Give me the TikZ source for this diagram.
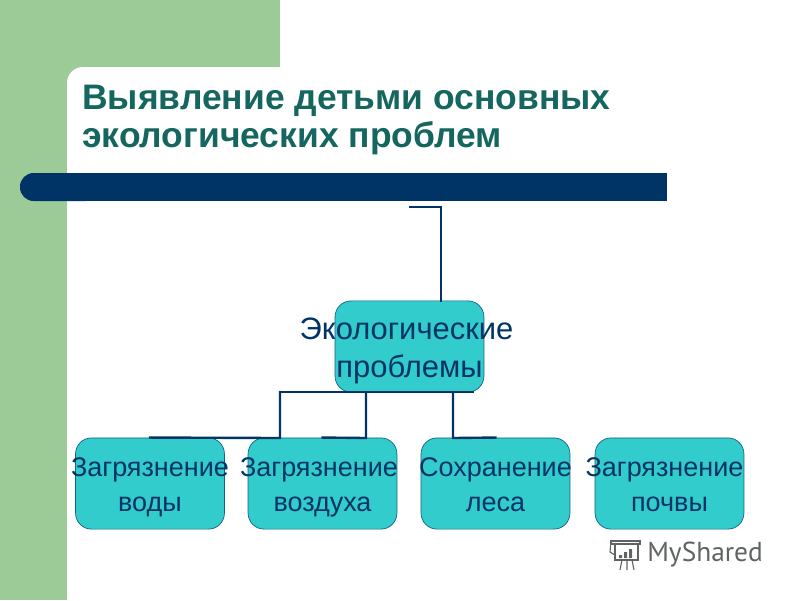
\documentclass[tikz,border=0pt]{standalone}
\usepackage{fontspec}
\setmainfont{Liberation Sans}
\newfontfamily\wmfont{PT Sans}
\usetikzlibrary{positioning}
\definecolor{sidegreen}{HTML}{9DCB98}
\definecolor{barblue}{HTML}{003366}
\definecolor{boxteal}{HTML}{33CCCC}
\definecolor{titleteal}{HTML}{14665F}
\definecolor{wmgray}{HTML}{5F6462}
\tikzset{
	probbox/.style={draw=barblue!70!boxteal, fill=boxteal, rounded corners=0.4cm, minimum width=3.72cm,
		minimum height=2.28cm, inner xsep=-1cm, inner ysep=0pt, align=center, text=barblue, line width=0.5pt},
	rootbox/.style={probbox, font=\fontsize{22}{27}\selectfont, text height=1.85cm, text depth=0.3cm},
	leafbox/.style={probbox, font=\fontsize{19.2}{24.7}\selectfont, text height=1.675cm, text depth=0.3cm},
	link/.style={draw=barblue, line width=1.7pt, line cap=rect},
	headtext/.style={text=titleteal, font=\fontsize{25.2}{27.2}\selectfont\bfseries, align=left, inner sep=0pt, anchor=north west},
	wmline/.style={draw=wmgray, line width=0.8pt}
}
\begin{document}
\begin{tikzpicture}[x=0.025cm, y=-0.025cm]
	\useasboundingbox (0, 0) rectangle (800, 600);
	% backdrop
	\fill[sidegreen] (0, 0) rectangle (67, 600);
	\fill[sidegreen] (67, 0) rectangle (280, 67);
	\fill[sidegreen] (67, 67) rectangle (90, 90);
	\fill[white] (67, 100) [rounded corners=0.4cm] -- (67, 67) -- (120, 67) [sharp corners] -- (120, 100) -- cycle;
	\fill[barblue, rounded corners=0.34cm] (20, 173) rectangle (100, 201);
	\fill[barblue] (50, 173) rectangle (667, 201);
	\node[headtext] (head) at (82, 85) {Выявление детьми основных\\экологических проблем};

	\node[rootbox] (root) at (409.5, 346.5) {Экологические\hspace*{0.15cm}\\проблемы};
	\node[leafbox] (water) at (150, 483.5) {Загрязнение\\воды};
	\node[leafbox] (air) at (322.5, 483.5) {Загрязнение\hspace*{0.175cm}\\воздуха};
	\node[leafbox] (forest) at (495.5, 483.5) {Сохранение\\леса};
	\node[leafbox] (soil) at (669.5, 483.5) {Загрязнение\hspace*{0.25cm}\\почвы};

	\coordinate (topend) at (410, 207);
	\coordinate (topbend) at (441, 207);
	\coordinate (rootleft) at (280, 392);
	\coordinate (rootright) at (473, 392);
	\coordinate (waterjoin) at (280, 438);
	\coordinate (airjoin) at (366, 438);
	\coordinate (forestjoin) at (453, 438);
	\draw[link] (topend) -- (topbend) -- (topbend |- root.north);
	\draw[link] (rootleft) -- (rootright);
	\draw[link] (rootleft) -- (waterjoin) -- (water.north);
	\draw[link] (airjoin |- root.south) -- (airjoin) -- (air.north);
	\draw[link] (forestjoin |- root.south) -- (forestjoin) -- (forest.north);

	% watermark
	\node[text=wmgray, font=\wmfont\fontsize{19.5}{20}\selectfont, anchor=west, inner sep=0pt] (mark) at (647, 555) {MyShared};
	\draw[wmline] (611, 541) rectangle (640, 544);
	\draw[wmline] (615, 544) rectangle (638, 560);
	\draw[wmline] (611, 541) -- (610, 552) -- (615, 555);
	\fill[wmgray] (619, 555) rectangle (622, 558) (624, 552) rectangle (627, 558) (629, 549) rectangle (632, 558);
	\draw[wmline] (622, 560) -- (620, 570) (627, 560) -- (627, 570) (632, 560) -- (634, 570);
\end{tikzpicture}
\end{document}
